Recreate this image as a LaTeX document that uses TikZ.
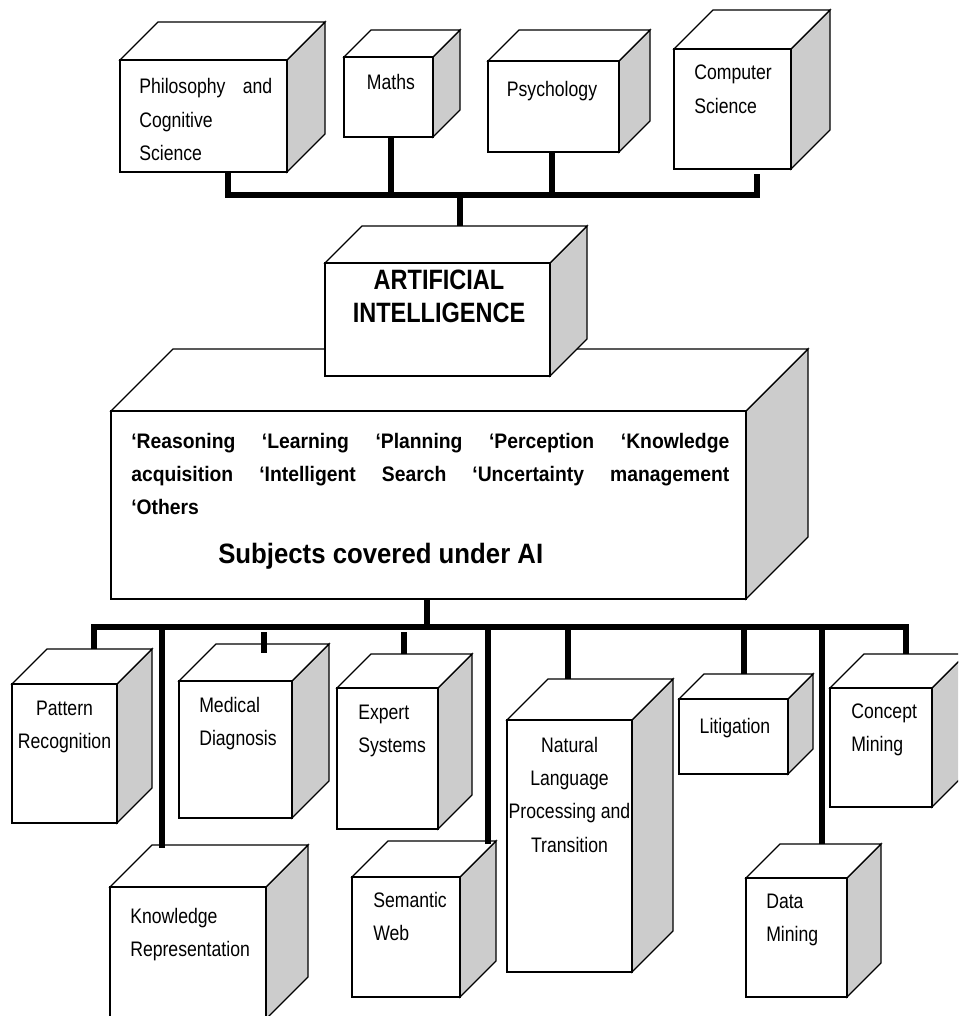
\documentclass[tikz,border=0pt]{standalone}
\usepackage{fontspec}
\setmainfont{Liberation Sans}
\newfontfamily\boxfont{Liberation Sans}[FakeStretch=0.84]
\newfontfamily\listfont{Liberation Sans}[FakeStretch=0.92]
\usetikzlibrary{fit}

\newcommand{\leftlines}[1]{\begin{tabular}[t]{@{}l@{}}#1\end{tabular}}
\newcommand{\midlines}[1]{\begin{tabular}[t]{@{}c@{}}#1\end{tabular}}

% box with a shaded side: name, left, top, right, bottom, depth
\newcommand{\cuboid}[6]{%
  \filldraw[side] (#4,#3) -- (#4+#6,#3-#6) -- (#4+#6,#5-#6) -- (#4,#5) -- cycle;
  \filldraw[face] (#2,#3) -- (#2+#6,#3-#6) -- (#4+#6,#3-#6) -- (#4,#3) -- cycle;
  \node[face, inner sep=0pt, fit={(#2,#3) (#4,#5)}] (#1) {};
  \coordinate (#1-top) at (#2+#6,#3-#6);
}

\begin{document}
\begin{tikzpicture}[x=0.75pt, y=-0.75pt,
  face/.style={draw, fill=white, line width=1pt},
  side/.style={draw, fill=black!20, line width=1pt},
  bus/.style={line width=4.2pt},
  txt/.style={inner sep=0pt, font=\boxfont\fontsize{15.75}{25}\selectfont},
  bold/.style={inner sep=0pt, font=\listfont\bfseries\fontsize{15.75}{25.1}\selectfont}]

\useasboundingbox (0,0) rectangle (958,1016);
\clip (0,0) rectangle (958,1016);

% source fields
\cuboid{phil}{120}{60}{287}{172}{38}
\cuboid{maths}{344}{57}{433}{137}{27}
\cuboid{psych}{488}{61}{619}{152}{31}
\cuboid{cs}{674}{49}{791}{169}{39}

% AI and what it covers
\cuboid{subj}{111}{411}{746}{599}{62}
\cuboid{ai}{325}{263}{550}{376}{37}

% applications
\cuboid{pattern}{12}{684}{117}{823}{35}
\cuboid{knowrep}{110}{887}{266}{1019}{42}
\cuboid{medical}{179}{681}{292}{818}{37}
\cuboid{expert}{337}{688}{438}{829}{34}
\cuboid{semweb}{352}{877}{460}{997}{36}
\cuboid{nlp}{507}{720}{632}{972}{41}
\cuboid{litig}{679}{699}{788}{774}{25}
\cuboid{datamin}{746}{878}{847}{997}{34}
\cuboid{concept}{830}{688}{932}{807}{34}

% labels
\node[txt, anchor=base west] (phil-txt) at (139,94) {\leftlines{\makebox[99.75pt][s]{Philosophy and}\\Cognitive\\Science}};
\node[txt, anchor=base] (maths-txt) at (391,90) {Maths};
\node[txt, anchor=base] (psych-txt) at (552,97) {Psychology};
\node[txt, anchor=base west] (cs-txt) at (694,80) {\leftlines{Computer\\Science}};

\node[txt, anchor=base, font=\boxfont\bfseries\fontsize{21}{24.75}\selectfont] (ai-txt) at (439,289)
  {\midlines{ARTIFICIAL\\INTELLIGENCE}};

\node[bold, anchor=base west] (subj-list) at (131,448) {\leftlines{%
  \makebox[448.5pt][s]{‘Reasoning ‘Learning ‘Planning ‘Perception ‘Knowledge}\\
  \makebox[448.5pt][s]{acquisition ‘Intelligent Search ‘Uncertainty management}\\
  ‘Others}};
\node[bold, anchor=base west, font=\listfont\bfseries\fontsize{21}{25}\selectfont] (subj-txt) at (218,563)
  {Subjects covered under AI};

\node[txt, anchor=base] (pattern-txt) at (64.5,715) {\midlines{Pattern\\Recognition}};
\node[txt, anchor=base west] (knowrep-txt) at (130,923) {\leftlines{Knowledge\\Representation}};
\node[txt, anchor=base west] (medical-txt) at (199,712) {\leftlines{Medical\\Diagnosis}};
\node[txt, anchor=base west] (expert-txt) at (358,719) {\leftlines{Expert\\Systems}};
\node[txt, anchor=base west] (semweb-txt) at (373,907) {\leftlines{Semantic\\Web}};
\node[txt, anchor=base] (nlp-txt) at (569.5,752) {\midlines{Natural\\Language\\Processing and\\Transition}};
\node[txt, anchor=base] (litig-txt) at (735,733) {Litigation};
\node[txt, anchor=base west] (datamin-txt) at (766,908) {\leftlines{Data\\Mining}};
\node[txt, anchor=base west] (concept-txt) at (851,718) {\leftlines{Concept\\Mining}};

% where the bars meet the boxes
\coordinate (upbus) at (460,195);
\coordinate (lowbus) at (427,627);
\coordinate (phil-port) at (phil.south -| 228,0);
\coordinate (maths-port) at (maths.south -| 391,0);
\coordinate (psych-port) at (psych.south -| 552,0);
\path (cs.south -| 757,0) ++(0,4) coordinate (cs-port);
\coordinate (ai-port) at (ai-top -| 460,0);
\coordinate (subj-port) at (subj.south -| 427,0);
\coordinate (pattern-port) at (pattern-top -| 94,0);
\path (knowrep-top -| 162,0) ++(0,3) coordinate (knowrep-port);
\path (medical-top -| 264,0) ++(0,9) coordinate (medical-port);
\coordinate (expert-port) at (expert-top -| 404,0);
\path (semweb-top -| 488,0) ++(0,3) coordinate (semweb-port);
\coordinate (nlp-port) at (nlp-top -| 568,0);
\coordinate (litig-port) at (litig-top -| 744,0);
\coordinate (datamin-port) at (datamin-top -| 822,0);
\coordinate (concept-port) at (concept-top -| 906,0);

% upper bar
\draw[bus] (phil-port) |- (upbus) -| (cs-port);
\foreach \b in {maths,psych}
  \draw[bus] (\b-port) -- (\b-port |- upbus);
\draw[bus] (upbus) -- (ai-port);

% lower bar
\draw[bus] (subj-port) -- (lowbus);
\draw[bus] (pattern-port) |- (lowbus) -| (concept-port);
\foreach \b in {knowrep,semweb,nlp,litig,datamin}
  \draw[bus] (\b-port |- lowbus) -- (\b-port);
\foreach \b in {medical,expert}
  \draw[bus] (\b-port |- lowbus) ++(0,5) -- (\b-port);

\end{tikzpicture}
\end{document}
